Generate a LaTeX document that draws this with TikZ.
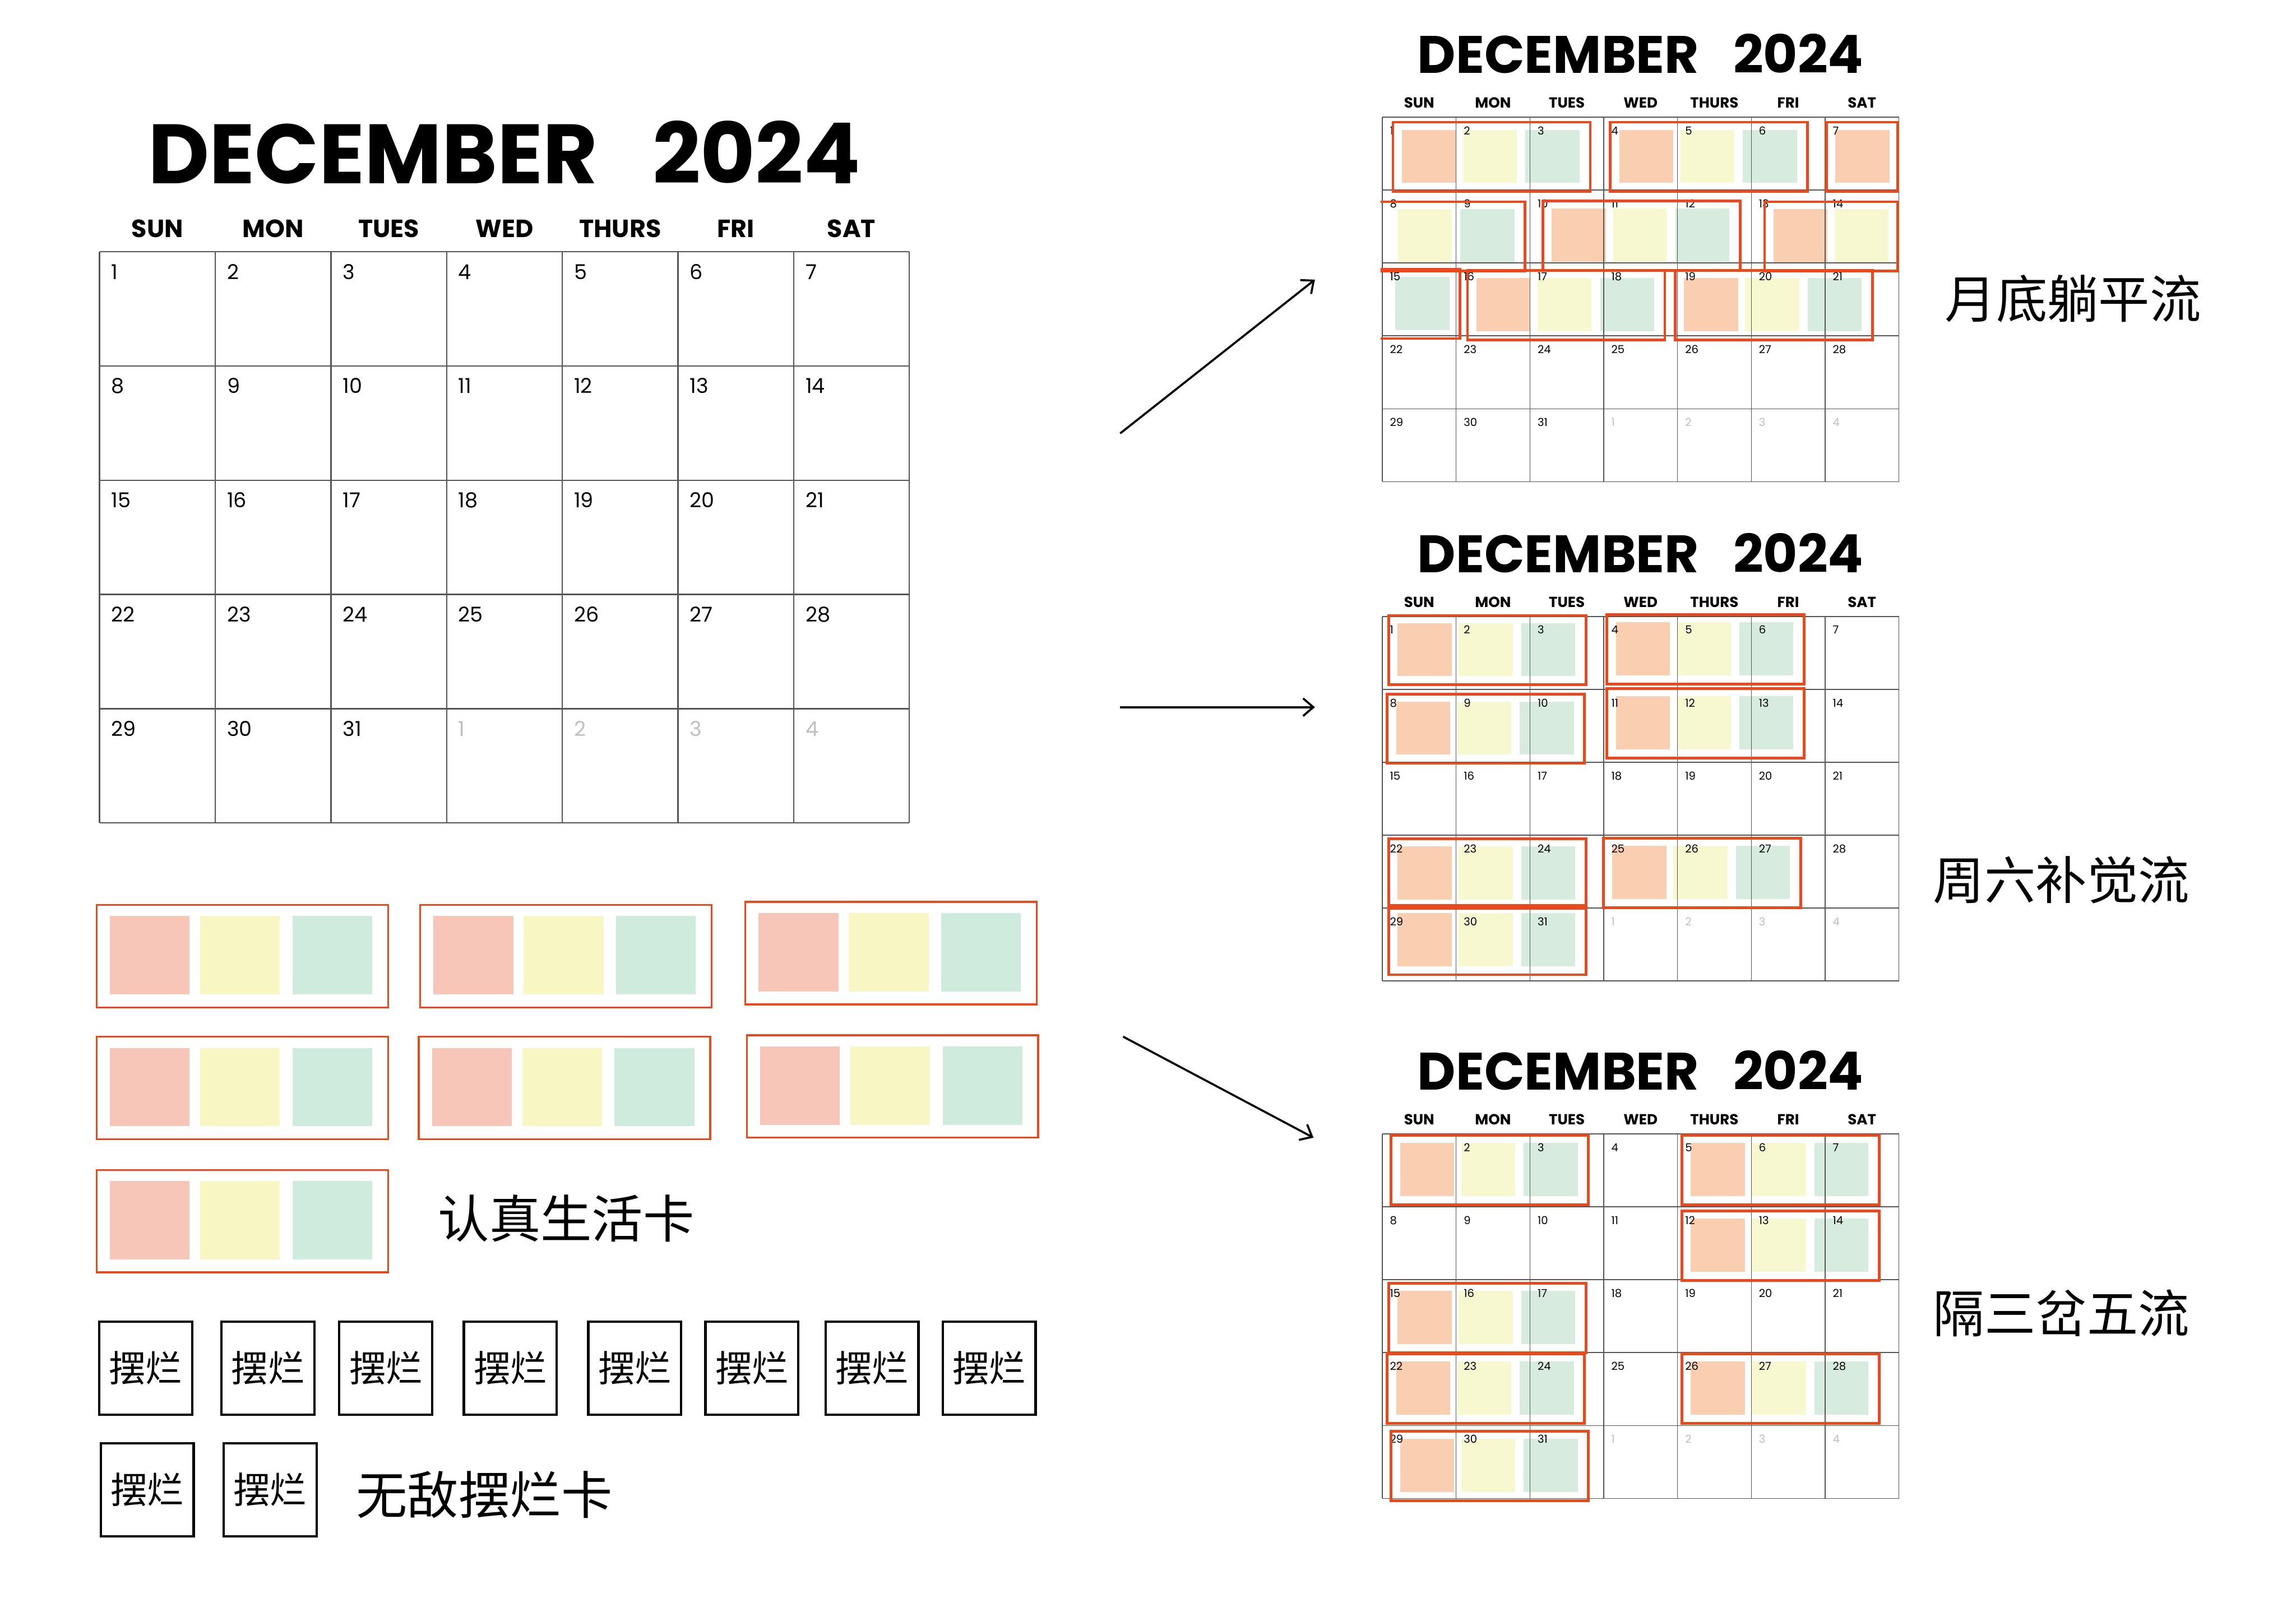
\documentclass[tikz,border=0pt]{standalone}
\usepackage{fontspec}
\newfontfamily\popfont{Poppins}
\newfontfamily\cjk{Noto Sans CJK SC}
\usetikzlibrary{arrows.meta}
\definecolor{cred}{HTML}{E84A1E}
\definecolor{pinkA}{HTML}{F7C6B9}
\definecolor{yellowA}{HTML}{F8F7C3}
\definecolor{greenA}{HTML}{CFEBDD}
\definecolor{pinkB}{HTML}{F9CEB1}
\definecolor{yellowB}{HTML}{F7F7D0}
\definecolor{greenB}{HTML}{D7EBDF}
\definecolor{gridgray}{HTML}{555555}
\colorlet{cpink}{pinkA}
\colorlet{cyellow}{yellowA}
\colorlet{cgreen}{greenA}
\pgfdeclarelayer{bg}
\pgfdeclarelayer{fg}
\pgfsetlayers{bg,main,fg}
\tikzset{
  gridline/.style={draw=gridgray, line width=0.6pt},
  cardline/.style={draw=cred, line width=\cardlw},
  lazycard/.style={draw, line width=1.6pt, minimum size=63.5pt, inner sep=0pt, font={\cjk\fontsize{25}{25}\selectfont}},
  lbl/.style={anchor=west, inner sep=0pt, font={\cjk\fontsize{35}{35}\selectfont}},
  arr/.style={-{Straight Barb[length=7pt,width=12pt]}, line width=1.4pt}
}
\def\cardlw{1.3pt}
% calendar: name, left, top, cell width, cell height, title size, head size, number size
\newcommand{\drawcal}[8]{%
  \node[anchor=base, font={\popfont\bfseries\fontsize{#6}{#6}\selectfont}] (#1title) at ({#2+3.5*#4},{#3-0.6*#5}) {DECEMBER\hspace{0.65em}2024};
  \foreach \dname [count=\i from 0] in {SUN,MON,TUES,WED,THURS,FRI,SAT}
    \node[anchor=base, font={\popfont\bfseries\fontsize{#7}{#7}\selectfont}] (#1h\i) at ({#2+(\i+0.5)*#4},{#3-0.125*#5}) {\dname};
  \foreach \i in {0,...,7}
    \draw[gridline] ({#2+\i*#4},{#3}) -- ++(0,{5*#5});
  \foreach \j in {0,...,5}
    \draw[gridline] ({#2},{#3+\j*#5}) -- ++({7*#4},0);
  \foreach \row in {0,...,4}
    \foreach \col in {0,...,6}{
      \pgfmathtruncatemacro\n{7*\row+\col+1}
      \ifnum\n>31 \def\ncol{black!25}\pgfmathtruncatemacro\n{\n-31}\else\def\ncol{black}\fi
      \node[anchor=base west, inner sep=0pt, text=\ncol, font={\popfont\fontsize{#8}{#8}\selectfont}] (#1d\row\col) at ({#2+(\col+0.1)*#4},{#3+(\row+0.24)*#5}) {\n};
    }
}
% card: x, y, scale, square clip left, frame clip left, clip right
\newcommand{\colorcard}[6]{%
  \begin{pgfonlayer}{bg}
    \begin{scope}
      \clip (#4,-50) rectangle (#6,1150);
      \fill[cpink] ({#1+9*#3},{#2+7.7*#3}) rectangle ++({54.5*#3},{53.5*#3});
      \fill[cyellow] ({#1+70.7*#3},{#2+7.7*#3}) rectangle ++({54.5*#3},{53.5*#3});
      \fill[cgreen] ({#1+133.7*#3},{#2+7.7*#3}) rectangle ++({54.5*#3},{53.5*#3});
    \end{scope}
  \end{pgfonlayer}
  \begin{pgfonlayer}{fg}
    \begin{scope}
      \clip (#5,-50) rectangle (#6,1150);
      \draw[cardline] ({#1},{#2}) rectangle ++({199*#3},{70*#3});
    \end{scope}
  \end{pgfonlayer}
}
\def\cL{944}
\def\cw{50.4}
\def\ch{49.8}
\newcommand{\daycard}[2]{\colorcard{\cL+(#1)*\cw}{\cT+(#2)*\ch}{0.677}{-50}{-50}{1700}}
\newcommand{\daycardL}[2]{\colorcard{\cL+(#1)*\cw}{\cT+(#2)*\ch}{0.677}{951}{942.8}{1700}}
\newcommand{\daycardR}[2]{\colorcard{\cL+(#1)*\cw}{\cT+(#2)*\ch}{0.677}{-50}{-50}{1296}%
  \begin{pgfonlayer}{fg}\draw[cardline, line cap=rect] (1296,{\cT+(#2)*\ch}) -- ++(0,{70*0.677});\end{pgfonlayer}}
\begin{document}
\begin{tikzpicture}[x=1pt, y=-1pt, line join=miter]
  \useasboundingbox (0,0) rectangle (1568,1091.2);
  % big calendar
  \begin{scope}[gridline/.append style={line width=0.9pt}]
    \drawcal{big}{68}{172}{79}{78}{57.5}{17}{14}
  \end{scope}
  % life cards
  \foreach \x/\y in {66/618, 287/618, 509/616, 66/708, 286/708, 510/707, 66/799}
    \colorcard{\x}{\y}{1}{-50}{-50}{1700};
  \node[lbl] (lblLife) at (299,832) {认真生活卡};
  % lazy cards
  \foreach \x [count=\i] in {67,150.5,231,316,401,481,563,643}
    \node[lazycard] (lazy\i) at ({\x+32.5},934.5) {摆烂};
  \foreach \x [count=\i from 9] in {68,152}
    \node[lazycard] (lazy\i) at ({\x+32.5},1017.5) {摆烂};
  \node[lbl] (lblLazy) at (243,1021) {无敌摆烂卡};
  % arrows
  \coordinate (a1s) at (765,296);
  \coordinate (a1e) at (898,191);
  \coordinate (a2s) at (765,483);
  \coordinate (a2e) at (898,483);
  \coordinate (a3s) at (767,708);
  \coordinate (a3e) at (897,777);
  \draw[arr] (a1s) -- (a1e);
  \draw[arr] (a2s) -- (a2e);
  \draw[arr] (a3s) -- (a3e);
  % small calendars
  \drawcal{calA}{\cL}{80}{\cw}{\ch}{36}{10}{7.5}
  \drawcal{calB}{\cL}{421}{\cw}{\ch}{36}{10}{7.5}
  \drawcal{calC}{\cL}{774.4}{\cw}{\ch}{36}{10}{7.5}
  \begin{scope}
    \colorlet{cpink}{pinkB}
    \colorlet{cyellow}{yellowB}
    \colorlet{cgreen}{greenB}
    \def\cardlw{1.8pt}
    % month-end
    \def\cT{80}
    \daycard{0.144}{0.069}
    \daycard{3.09}{0.069}
    \daycardR{6.02}{0.069}
    \daycardL{-0.738}{1.16}
    \daycard{2.176}{1.15}
    \daycardR{5.18}{1.16}
    \daycardL{-1.62}{2.086}
    \daycard{1.155}{2.105}
    \daycard{3.967}{2.105}
    % saturday
    \def\cT{421}
    \daycard{0.087}{-0.014}
    \daycard{3.043}{-0.024}
    \daycard{0.067}{1.064}
    \daycard{3.043}{0.989}
    \daycard{0.087}{3.049}
    \daycard{2.995}{3.042}
    \daycard{0.087}{3.963}
    % every few days
    \def\cT{774.4}
    \daycard{0.12}{0.021}
    \daycard{4.059}{0.021}
    \daycard{4.059}{1.057}
    \daycard{0.087}{2.05}
    \daycard{0.067}{3.02}
    \daycard{4.059}{3.02}
    \daycard{0.12}{4.08}
  \end{scope}
  \node[lbl] (lblEnd) at (1328,204) {月底躺平流};
  \node[lbl] (lblSat) at (1320,601) {周六补觉流};
  \node[lbl] (lblFew) at (1320,897) {隔三岔五流};
\end{tikzpicture}
\end{document}
